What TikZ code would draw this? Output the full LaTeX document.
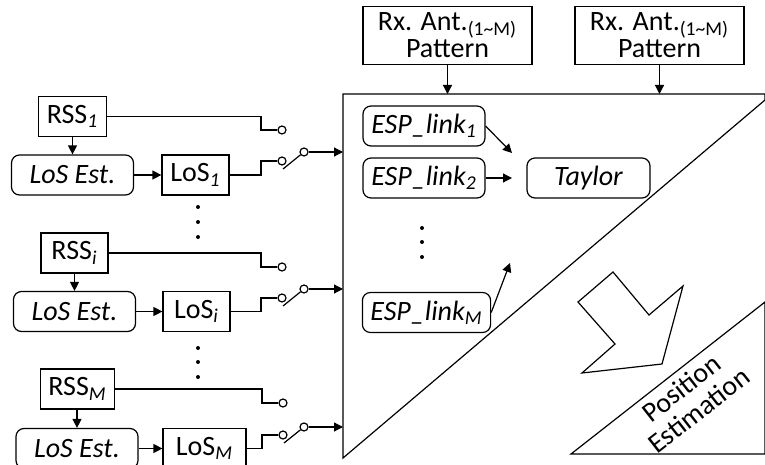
\documentclass[tikz,border=0pt]{standalone}
\usepackage{fontspec}
\setmainfont{Carlito}
\usetikzlibrary{arrows.meta, positioning, calc}

\tikzset{
  blk/.style={draw, line width=0.6pt, minimum height=20pt, minimum width=33.5pt, inner xsep=4pt,
              font=\fontsize{14}{15}\selectfont},
  rblk/.style={blk, rounded corners=4pt, minimum width=61pt},
  arr/.style={-{Triangle[length=4.5pt,width=4.5pt]}, line width=0.6pt},
  wire/.style={line width=0.6pt},
  pin/.style={circle, draw, line width=0.6pt, fill=white, inner sep=0pt, minimum size=4pt},
  dot/.style={circle, fill, inner sep=0pt, minimum size=2pt},
}

\begin{document}
\begin{tikzpicture}[x=0.5pt, y=-0.5pt]
    \useasboundingbox (0,0) rectangle (765,465);

    % Antenna pattern inputs
    \node[blk, minimum width=84.5pt, minimum height=27.5pt, align=center, font=\fontsize{14}{11.5}\selectfont]
        (rx1) at (447.5,35.5) {Rx. Ant.\textsubscript{(1\textasciitilde M)}\\Pattern};
    \node[blk, minimum width=84.5pt, minimum height=27.5pt, align=center, font=\fontsize{14}{11.5}\selectfont]
        (rx2) at (659.5,35.5) {Rx. Ant.\textsubscript{(1\textasciitilde M)}\\Pattern};

    % Estimation panel
    \coordinate (panelNW) at (343,94);
    \draw[wire] (343,458) -- (panelNW) -- (765,94) -- (765,100) -- cycle;
    \draw[arr] (rx1) -- (rx1 |- panelNW);
    \draw[arr] (rx2) -- (rx2 |- panelNW);

    % Chain 1
    \node[blk] (rss1) at (72.5,116.5) {RSS\textsubscript{\itshape 1}};
    \node[rblk] (est1) at (72.5,175) {\itshape LoS Est.};
    \node[blk] (los1) at (195.5,175) {LoS\textsubscript{\itshape 1}};
    \node[pin] (pr1) at (282,130) {};
    \node[pin] (pl1) at (282,161) {};
    \node[pin] (pu1) at (304,152) {};
    \draw[arr] (rss1) -- (est1);
    \draw[arr] (est1) -- (los1);
    \draw[wire] (rss1.east) -| ([xshift=-10.5pt]pr1.center) -- (pr1);
    \draw[wire] (los1.east) -| ([xshift=-10.5pt]pl1.center) -- (pl1);
    \draw[wire] ([xshift=0.5pt,yshift=-4pt]pl1.center) -- (pu1);
    \draw[arr] (pu1) -- (pu1 -| panelNW);

    \node[dot] (da1) at (198,207) {};
    \node[dot] (da2) at (198,222) {};
    \node[dot] (da3) at (198,237) {};

    % Chain i
    \node[blk] (rssi) at (74.5,253) {RSS\textsubscript{\itshape i}};
    \node[rblk] (esti) at (74.5,311.5) {\itshape LoS Est.};
    \node[blk] (losi) at (196.5,311.5) {LoS\textsubscript{\itshape i}};
    \node[pin] (pri) at (282,267) {};
    \node[pin] (pli) at (282,298) {};
    \node[pin] (pui) at (304,289) {};
    \draw[arr] (rssi) -- (esti);
    \draw[arr] (esti) -- (losi);
    \draw[wire] (rssi.east) -| ([xshift=-10.5pt]pri.center) -- (pri);
    \draw[wire] (losi.east) -| ([xshift=-10.5pt]pli.center) -- (pli);
    \draw[wire] ([xshift=0.5pt,yshift=-4pt]pli.center) -- (pui);
    \draw[arr] (pui) -- (pui -| panelNW);

    \node[dot] (db1) at (198,348) {};
    \node[dot] (db2) at (198,362) {};
    \node[dot] (db3) at (198,377) {};

    % Chain M
    \node[blk] (rssm) at (77.5,389) {RSS\textsubscript{\itshape M}};
    \node[rblk] (estm) at (77,448.5) {\itshape LoS Est.};
    \node[blk, minimum width=41.5pt] (losm) at (204.5,448.5) {LoS\textsubscript{\itshape M}};
    \node[pin] (prm) at (283,403) {};
    \node[pin] (plm) at (283,435) {};
    \node[pin] (pum) at (304,427) {};
    \draw[arr] (rssm.south -| estm) -- (estm);
    \draw[arr] (estm) -- (losm);
    \draw[wire] (rssm.east) -| ([xshift=-10.5pt]prm.center) -- (prm);
    \draw[wire] (losm.east) -| ([xshift=-10.5pt]plm.center) -- (plm);
    \draw[wire] ([xshift=0.5pt,yshift=-4pt]plm.center) -- (pum);
    \draw[arr] (pum) -- (pum -| panelNW);

    % Links and Taylor
    \node[rblk] (esp1) at (424,126) {\itshape ESP\_link\textsubscript{1}};
    \node[rblk] (esp2) at (424,178) {\itshape ESP\_link\textsubscript{2}};
    \node[rblk] (espm) at (426.5,312.5) {\itshape ESP\_link\textsubscript{M}};
    \node[rblk, minimum width=61.5pt] (taylor) at (588.5,178) {\itshape Taylor};
    \coordinate (t1) at (512,153);
    \coordinate (t2) at (512,178);
    \coordinate (tm) at (510,263);
    \draw[arr] (esp1.east) -- (t1);
    \draw[arr] (esp2.east) -- (t2);
    \draw[arr] (espm.east) -- (tm);

    \node[dot] (dc1) at (422,228) {};
    \node[dot] (dc2) at (422,242) {};
    \node[dot] (dc3) at (422,257) {};

    % Block arrow and output
    \draw[wire] (578,302) -- (613,272) -- (649,315) -- (683,286) -- (662,364) -- (582,373) -- (615,344) -- cycle;
    \draw[wire] (571,454) -- (765,302) -- (765,454) -- cycle;
    \node[align=center, rotate=38, font=\fontsize{14}{14}\selectfont] (posest) at (690,399) {Position\\Estimation};
\end{tikzpicture}
\end{document}
